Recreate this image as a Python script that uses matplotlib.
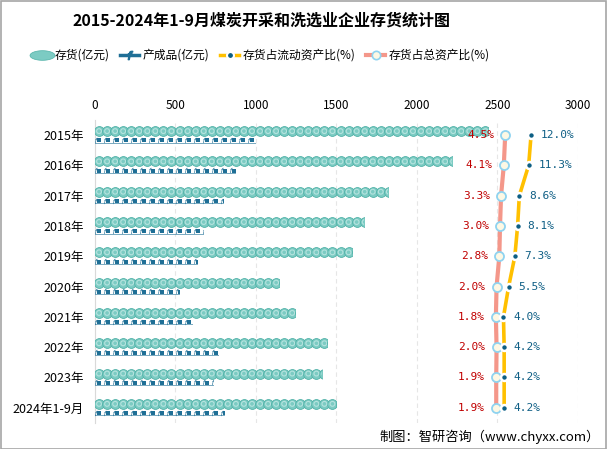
import numpy as np
import matplotlib
matplotlib.use("Agg")
import matplotlib.pyplot as plt
from matplotlib.patches import Rectangle
from matplotlib.lines import Line2D
from matplotlib.path import Path

plt.rcParams['font.family'] = ['Noto Sans CJK SC', 'DejaVu Sans']

# data
years = ['2015年', '2016年', '2017年', '2018年', '2019年', '2020年',
         '2021年', '2022年', '2023年', '2024年1-9月']
inventory = [2438, 2216, 1821, 1670, 1599, 1142, 1240, 1443, 1412, 1500]   # 存货(亿元)
product = [991, 872, 797, 669, 633, 523, 602, 766, 731, 804]               # 产成品(亿元)
cur_ratio = [12.0, 11.3, 8.6, 8.1, 7.3, 5.5, 4.0, 4.2, 4.2, 4.2]           # 存货占流动资产比(%)
tot_ratio = [4.5, 4.1, 3.3, 3.0, 2.8, 2.0, 1.8, 2.0, 1.9, 1.9]             # 存货占总资产比(%)

teal = '#7ccbc3'
teal_edge = '#4fb1a7'
navy = '#1f6f96'
yellow = '#ffc000'
salmon = '#f4978a'
red_txt = '#c00000'
blue_txt = '#0f5f85'

fig = plt.figure(figsize=(6.07, 4.49), dpi=100)
ax = fig.add_axes([0.1565, 0.058, 0.7957, 0.675])
y = np.arange(len(years))

circ_step = 50
prod_step = 56
for i in range(len(years)):
    # pictorial bar of circles
    xs = np.arange(circ_step / 2, inventory[i] + circ_step, circ_step)
    clip = Rectangle((0, i - 0.4), inventory[i], 0.8, transform=ax.transData)
    c1 = ax.scatter(xs, np.full(len(xs), i - 0.13), s=50, c=teal,
                    edgecolors=teal_edge, linewidths=0.6, zorder=3)
    c2 = ax.scatter(xs, np.full(len(xs), i - 0.13), s=12, c='none',
                    edgecolors='#b5e3de', linewidths=0.8, zorder=4)
    c1.set_clip_path(clip)
    c2.set_clip_path(clip)
    # pictorial bar of small icons
    xp = np.arange(prod_step * 0.4, product[i] + prod_step, prod_step)
    clip2 = Rectangle((0, i - 0.4), product[i], 0.8, transform=ax.transData)
    p1 = ax.scatter(xp, np.full(len(xp), i + 0.18), s=9, marker='s',
                    c=navy, linewidths=0, zorder=3)
    p2 = ax.scatter(xp - prod_step * 0.3, np.full(len(xp), i + 0.16), s=14,
                    marker=r'$\mathit{f}$', c=navy, linewidths=0, zorder=3)
    p1.set_clip_path(clip2)
    p2.set_clip_path(clip2)
    ax.plot([0, product[i]], [i + 0.25, i + 0.25], color=navy, lw=0.7,
            alpha=0.6, zorder=3)

ax.set_xlim(0, 3000)
ax.set_ylim(len(years) - 0.5, -0.5)
ax.set_yticks(y)
ax.set_yticklabels(years, fontsize=9)
ax.set_xticks(np.arange(0, 3001, 500))
ax.grid(axis='x', color='#e6e6e6', linestyle=(0, (4, 3)), lw=0.8)
ax.set_axisbelow(True)
for s in ['top', 'right', 'bottom']:
    ax.spines[s].set_visible(False)
ax.spines['left'].set_color('#d9d9d9')

# ratio lines on a hidden second axis
ax2 = ax.twiny()
ax2.set_xlim(-114.4, 25.6)
ax2.axis('off')
ax2.set_ylim(ax.get_ylim())
ax.xaxis.tick_top()
ax.tick_params(axis='x', length=0, pad=6, labelsize=8.5)
ax.tick_params(axis='y', length=0, pad=8)

ax2.plot(tot_ratio, y, color=salmon, lw=3, marker='o', ms=6.5,
         mfc='#fdf8e4', mec='#8fd3f0', mew=1.3, zorder=5)
ax2.plot(cur_ratio, y, color=yellow, lw=2.6, marker='o', ms=5,
         mfc='#0d5f84', mec='white', mew=1.8, zorder=5)
for i in range(len(years)):
    ax2.annotate(f'{tot_ratio[i]:.1f}%', (tot_ratio[i], i), xytext=(-8, 0),
                 textcoords='offset points', ha='right', va='center',
                 color=red_txt, fontsize=8, family='DejaVu Sans Mono')
    ax2.annotate(f'{cur_ratio[i]:.1f}%', (cur_ratio[i], i), xytext=(7, 0),
                 textcoords='offset points', ha='left', va='center',
                 color=blue_txt, fontsize=8, family='DejaVu Sans Mono')

# title and legend
fig.text(0.43, 0.955, '2015-2024年1-9月煤炭开采和洗选业企业存货统计图',
         ha='center', va='center', fontsize=11.5, fontweight='bold')

t = np.linspace(0, 2 * np.pi, 40)
ell = Path(np.c_[2.6 * np.cos(t), np.sin(t)])
handles = [
    Line2D([], [], ls='none', marker=ell, ms=18, mfc=teal, mec=teal_edge, mew=0.5),
    Line2D([], [], color=navy, lw=2.5, marker=r'$\mathit{f}$', ms=6, mfc=navy, mec=navy),
    Line2D([], [], color=yellow, lw=2.5, marker='o', ms=5, mfc='#0d5f84', mec='white', mew=1.5),
    Line2D([], [], color=salmon, lw=3, marker='o', ms=6, mfc='#fdf8e4', mec='#8fd3f0', mew=1.2),
]
labels = ['存货(亿元)', '产成品(亿元)', '存货占流动资产比(%)', '存货占总资产比(%)']
fig.legend(handles, labels, loc='center', bbox_to_anchor=(0.43, 0.877), ncol=4,
           frameon=False, fontsize=8.5, handlelength=1.6, handletextpad=0.3,
           columnspacing=0.9)

fig.text(0.988, 0.028, '制图：智研咨询（www.chyxx.com）', ha='right', va='center',
         fontsize=9.5)

fig.patches.append(Rectangle((0.001, 0.001), 0.997, 0.997, transform=fig.transFigure,
                             fill=False, edgecolor='#a6a6a6', lw=1.2))

fig.savefig('out.png', dpi=100)
